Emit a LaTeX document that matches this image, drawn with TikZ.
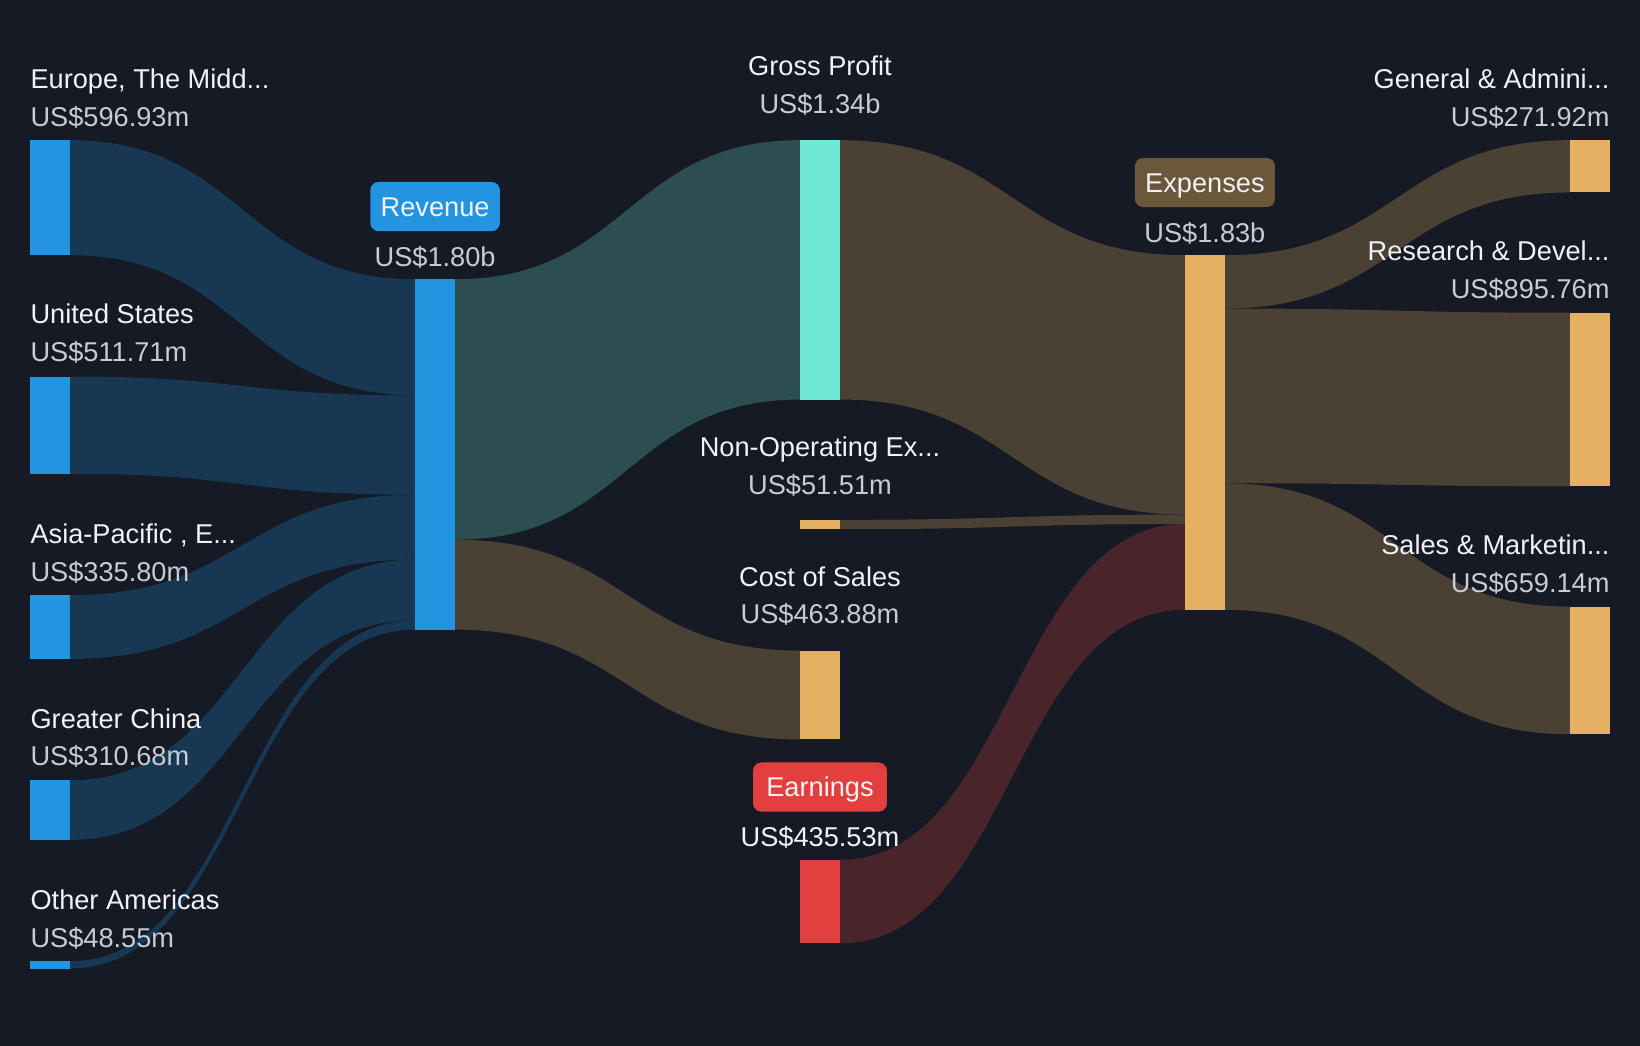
\documentclass[tikz,border=0pt]{standalone}
\usepackage{fontspec}
\setmainfont{Liberation Sans}
\usepackage{tikz}
\usetikzlibrary{calc}
\definecolor{bg}{RGB}{21,26,36}
\definecolor{barblue}{RGB}{35,148,223}
\definecolor{flowblue}{RGB}{23,55,82}
\definecolor{barteal}{RGB}{111,232,212}
\definecolor{flowteal}{RGB}{44,78,81}
\definecolor{bartan}{RGB}{228,176,98}
\definecolor{flowtan}{RGB}{74,64,52}
\definecolor{barred}{RGB}{227,63,63}
\definecolor{flowred}{RGB}{74,36,43}
\definecolor{badgetan}{RGB}{107,87,58}
\definecolor{txtwhite}{RGB}{240,242,245}
\definecolor{txtgrey}{RGB}{200,204,210}
\tikzset{
	lbl/.style={inner sep=0pt, text=txtwhite, text height=19pt, text depth=0pt, font=\fontsize{26}{30}\selectfont},
	val/.style={inner sep=0pt, text=txtgrey, text height=19pt, text depth=0pt, font=\fontsize{26}{30}\selectfont},
	badge/.style={rounded corners=8pt, minimum width=#1, minimum height=47pt, inner sep=0pt, text=txtwhite, text height=19pt, text depth=0pt, font=\fontsize{26}{30}\selectfont},
}
\def\flow(#1,#2,#3)(#4,#5,#6)[#7]{\fill[#7] (#1,#2) .. controls ({(#1+#4)/2},#2) and ({(#1+#4)/2},#5) .. (#4,#5) -- (#4,#6) .. controls ({(#1+#4)/2},#6) and ({(#1+#4)/2},#3) .. (#1,#3) -- cycle;}

\begin{document}
\begin{tikzpicture}[x=1pt, y=-1pt]
		%%%%% START %%%%%
		
		\fill[bg] (0, 0) rectangle (1568, 1000);
		\useasboundingbox (0, 0) rectangle (1568, 1000);
		
		% regions -> revenue
		\flow(67,134,244)(397,267,378)[flowblue]
		\flow(67,360,453)(397,378,473)[flowblue]
		\flow(67,569,630)(397,473,535)[flowblue]
		\flow(67,746,803)(397,535,593)[flowblue]
		\flow(67,919,926)(397,593,602)[flowblue]
		
		% revenue -> gross profit, cost of sales
		\flow(435,267,516)(765,134,382)[flowteal]
		\flow(435,516,602)(765,622,707)[flowtan]
		
		% -> expenses
		\flow(803,134,382)(1133,244,492)[flowtan]
		\flow(803,497,506)(1133,492,501)[flowtan]
		\flow(803,822,902)(1133,501,583)[flowred]
		
		% expenses -> items
		\flow(1171,244,295)(1501,134,184)[flowtan]
		\flow(1171,295,462)(1501,299,465)[flowtan]
		\flow(1171,462,583)(1501,580,702)[flowtan]
		
		% bars
		\fill[barblue] (29, 134) rectangle (67, 244);
		\fill[barblue] (29, 360) rectangle (67, 453);
		\fill[barblue] (29, 569) rectangle (67, 630);
		\fill[barblue] (29, 746) rectangle (67, 803);
		\fill[barblue] (29, 919) rectangle (67, 926);
		\fill[barblue] (397, 267) rectangle (435, 602);
		\fill[barteal] (765, 134) rectangle (803, 382);
		\fill[bartan] (765, 497) rectangle (803, 506);
		\fill[bartan] (765, 622) rectangle (803, 707);
		\fill[barred] (765, 822) rectangle (803, 902);
		\fill[bartan] (1133, 244) rectangle (1171, 583);
		\fill[bartan] (1501, 134) rectangle (1539, 184);
		\fill[bartan] (1501, 299) rectangle (1539, 465);
		\fill[bartan] (1501, 580) rectangle (1539, 702);
		
		% left labels
		\node[lbl, anchor=west] (europe) at (29, 75) {Europe, The Midd...};
		\node[val, anchor=west] (europev) at (29, 111) {US\$596.93m};
		\node[lbl, anchor=west] (us) at (29, 300) {United States};
		\node[val, anchor=west] (usv) at (29, 336) {US\$511.71m};
		\node[lbl, anchor=west] (asia) at (29, 510) {Asia-Pacific , E...};
		\node[val, anchor=west] (asiav) at (29, 546) {US\$335.80m};
		\node[lbl, anchor=west] (china) at (29, 687) {Greater China};
		\node[val, anchor=west] (chinav) at (29, 722) {US\$310.68m};
		\node[lbl, anchor=west] (other) at (29, 860) {Other Americas};
		\node[val, anchor=west] (otherv) at (29, 896) {US\$48.55m};
		
		% middle labels
		\node[badge=124pt, fill=barblue] (revenue) at (416, 197.5) {Revenue};
		\node[val] (revenuev) at (416, 245) {US\$1.80b};
		\node[lbl] (gross) at (784, 63) {Gross Profit};
		\node[val] (grossv) at (784, 99) {US\$1.34b};
		\node[lbl] (nonop) at (784, 427) {Non-Operating Ex...};
		\node[val] (nonopv) at (784, 463) {US\$51.51m};
		\node[lbl] (cos) at (784, 551) {Cost of Sales};
		\node[val] (cosv) at (784, 587) {US\$463.88m};
		\node[badge=128pt, fill=barred] (earnings) at (784, 752.5) {Earnings};
		\node[lbl] (earningsv) at (784, 800) {US\$435.53m};
		\node[badge=134pt, fill=badgetan] (expenses) at (1152, 174.5) {Expenses};
		\node[val] (expensesv) at (1152, 222) {US\$1.83b};
		
		% right labels
		\node[lbl, anchor=east] (ga) at (1539, 75) {General \& Admini...};
		\node[val, anchor=east] (gav) at (1539, 111) {US\$271.92m};
		\node[lbl, anchor=east] (rd) at (1539, 240) {Research \& Devel...};
		\node[val, anchor=east] (rdv) at (1539, 276) {US\$895.76m};
		\node[lbl, anchor=east] (sm) at (1539, 521) {Sales \& Marketin...};
		\node[val, anchor=east] (smv) at (1539, 557) {US\$659.14m};
		
		%%%%% END %%%%%
	\end{tikzpicture}
\end{document}
